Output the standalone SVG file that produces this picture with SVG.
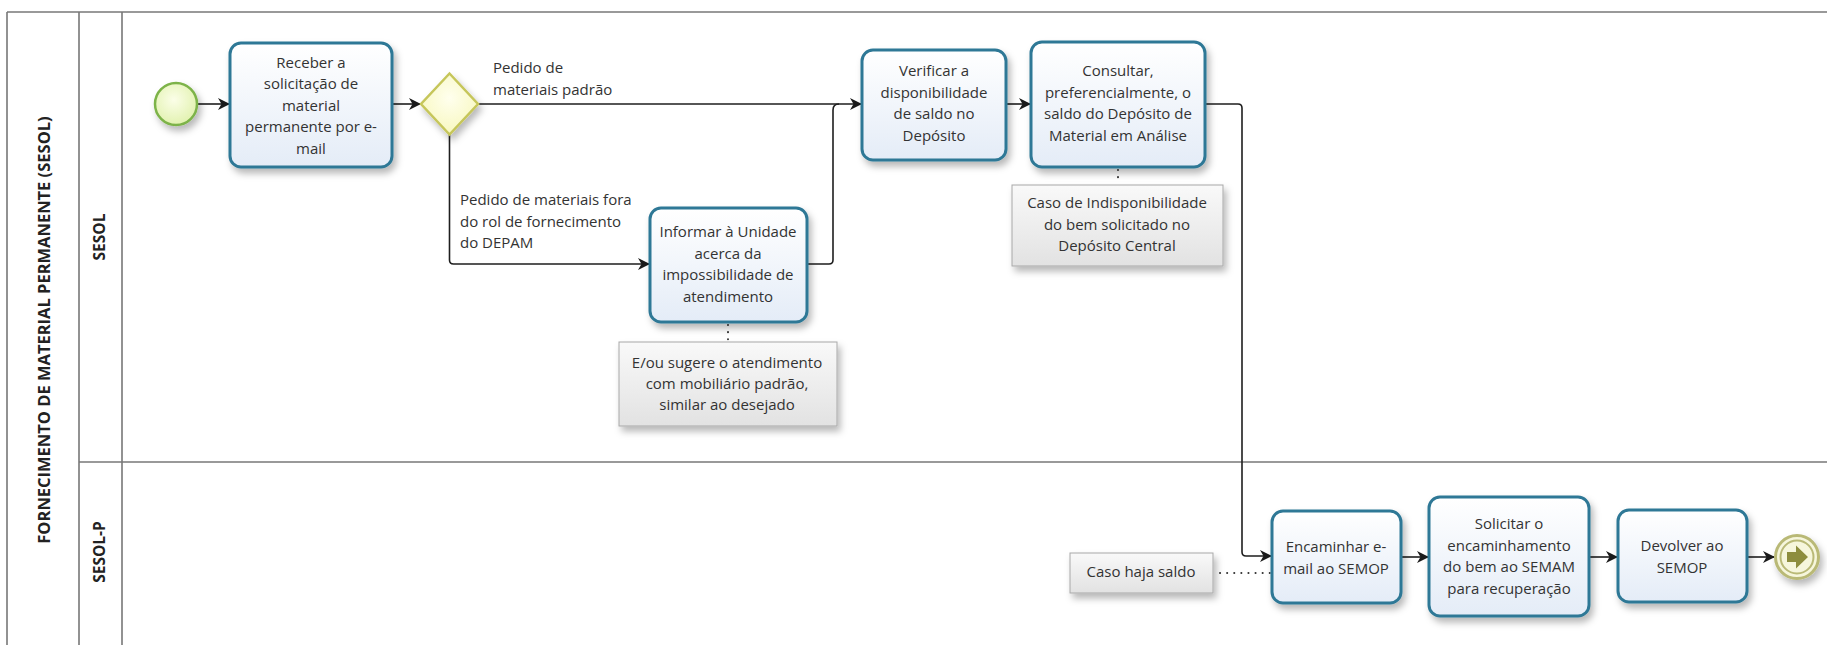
<svg xmlns="http://www.w3.org/2000/svg" width="1827" height="645" viewBox="0 0 1827 645">
<defs>
<linearGradient id="gTask" x1="0" y1="0" x2="0" y2="1"><stop offset="0" stop-color="#ffffff"/><stop offset="1" stop-color="#e4ecf7"/></linearGradient>
<linearGradient id="gNote" x1="0" y1="0" x2="0" y2="1"><stop offset="0" stop-color="#f9f9f9"/><stop offset="1" stop-color="#e2e2e2"/></linearGradient>
<radialGradient id="gStart" cx="0.45" cy="0.4" r="0.6"><stop offset="0" stop-color="#fbfee8"/><stop offset="1" stop-color="#e2f2b0"/></radialGradient>
<radialGradient id="gGate" cx="0.5" cy="0.4" r="0.6"><stop offset="0" stop-color="#ffffee"/><stop offset="1" stop-color="#f8f8c0"/></radialGradient>
<filter id="sh" x="-20%" y="-20%" width="150%" height="160%"><feDropShadow dx="3" dy="5" stdDeviation="3.5" flood-color="#000" flood-opacity="0.28"/></filter>
<marker id="arr" viewBox="0 0 12 12" refX="11" refY="6" markerWidth="12" markerHeight="12" markerUnits="userSpaceOnUse" orient="auto"><path d="M0,0 L12,6 L0,12 L3.5,6 z" fill="#1a1a1a"/></marker>
<style>
.frame{fill:none;stroke:#777;stroke-width:1.6}
.task{fill:url(#gTask);stroke:#2f7896;stroke-width:3;filter:url(#sh)}
.note{fill:url(#gNote);stroke:#a8a8a8;stroke-width:1;filter:url(#sh)}
.t{font-family:"Open Sans","Liberation Sans",sans-serif;font-size:15px;fill:#333;text-anchor:middle}
.lbl{font-family:"Open Sans","Liberation Sans",sans-serif;font-size:15px;fill:#333}
.hdr{font-family:"Open Sans","Liberation Sans",sans-serif;font-size:15.5px;font-weight:bold;fill:#222;text-anchor:middle}
.ttl{font-size:16.5px}
.flow{fill:none;stroke:#1e1e1e;stroke-width:1.6;marker-end:url(#arr)}
.assoc{fill:none;stroke:#333;stroke-width:2;stroke-dasharray:0.1,7;stroke-linecap:round}
</style>
</defs>
<rect width="1827" height="645" fill="#ffffff"/>
<g id="pool">
<line class="frame" x1="7" y1="12" x2="1827" y2="12"/>
<line class="frame" x1="7" y1="12" x2="7" y2="645"/>
<line class="frame" x1="79" y1="12" x2="79" y2="645"/>
<line class="frame" x1="122" y1="12" x2="122" y2="645"/>
<line class="frame" x1="79" y1="462" x2="1827" y2="462"/>
<text class="hdr ttl" transform="translate(50,330) rotate(-90)">FORNECIMENTO DE MATERIAL PERMANENTE (SESOL)</text>
</g>
<g id="lane-sesol"><text class="hdr" transform="translate(105,237) rotate(-90)">SESOL</text></g>
<g id="lane-sesolp"><text class="hdr" transform="translate(105,552) rotate(-90)">SESOL-P</text></g>

<g id="connectors">
<path class="flow" d="M197,104 H229"/>
<path class="flow" d="M392,104 H420"/>
<path class="flow" d="M478,104 H861"/>
<path fill="none" stroke="#1e1e1e" stroke-width="1.6" d="M807,264 H829 Q833,264 833,260 V110 Q833,104 839,104"/>
<path class="flow" d="M449.5,134 V260 Q449.5,264 453.5,264 H649"/>
<path class="flow" d="M1006,104 H1030"/>
<path class="flow" d="M1205,104 H1238 Q1242,104 1242,108 V552 Q1242,556 1246,556 H1271"/>
<path class="flow" d="M1401,557 H1428"/>
<path class="flow" d="M1589,557 H1617"/>
<path class="flow" d="M1747,557 H1774"/>
<path class="assoc" d="M1118,170 V184"/>
<path class="assoc" d="M728,325 V341"/>
<path class="assoc" d="M1220,573 H1270"/>
</g>

<g id="start"><circle cx="176" cy="104" r="21" fill="url(#gStart)" stroke="#7db348" stroke-width="2.5" filter="url(#sh)"/></g>

<g id="task-receber">
<rect class="task" x="230" y="43" width="162" height="124" rx="11"/>
<text class="t" x="311" y="67.5"><tspan x="311">Receber a</tspan><tspan x="311" dy="21.5">solicitação de</tspan><tspan x="311" dy="21.5">material</tspan><tspan x="311" dy="21.5">permanente por e-</tspan><tspan x="311" dy="21.5">mail</tspan></text>
</g>

<g id="gateway">
<polygon points="449.5,73.5 478,104 449.5,134.5 421,104" fill="url(#gGate)" stroke="#c6c65a" stroke-width="2.5" filter="url(#sh)"/>
</g>

<g id="label-padrao"><text class="lbl" x="493" y="73"><tspan x="493">Pedido de</tspan><tspan x="493" dy="21.5">materiais padrão</tspan></text></g>
<g id="label-fora"><text class="lbl" x="460" y="205"><tspan x="460">Pedido de materiais fora</tspan><tspan x="460" dy="21.5">do rol de fornecimento</tspan><tspan x="460" dy="21.5">do DEPAM</tspan></text></g>

<g id="task-informar">
<rect class="task" x="650" y="208" width="157" height="114" rx="11"/>
<text class="t" x="728" y="237"><tspan x="728">Informar à Unidade</tspan><tspan x="728" dy="21.5">acerca da</tspan><tspan x="728" dy="21.5">impossibilidade de</tspan><tspan x="728" dy="21.5">atendimento</tspan></text>
</g>

<g id="note-eou">
<rect class="note" x="619" y="342" width="218" height="84"/>
<text class="t" x="727" y="368"><tspan x="727">E/ou sugere o atendimento</tspan><tspan x="727" dy="21">com mobiliário padrão,</tspan><tspan x="727" dy="21">similar ao desejado</tspan></text>
</g>

<g id="task-verificar">
<rect class="task" x="862" y="50" width="144" height="110" rx="11"/>
<text class="t" x="934" y="76"><tspan x="934">Verificar a</tspan><tspan x="934" dy="21.5">disponibilidade</tspan><tspan x="934" dy="21.5">de saldo no</tspan><tspan x="934" dy="21.5">Depósito</tspan></text>
</g>

<g id="task-consultar">
<rect class="task" x="1031" y="42" width="174" height="125" rx="11"/>
<text class="t" x="1118" y="76"><tspan x="1118">Consultar,</tspan><tspan x="1118" dy="21.5">preferencialmente, o</tspan><tspan x="1118" dy="21.5">saldo do Depósito de</tspan><tspan x="1118" dy="21.5">Material em Análise</tspan></text>
</g>

<g id="note-indisp">
<rect class="note" x="1012" y="185" width="211" height="81"/>
<text class="t" x="1117" y="208"><tspan x="1117">Caso de Indisponibilidade</tspan><tspan x="1117" dy="21.5">do bem solicitado no</tspan><tspan x="1117" dy="21.5">Depósito Central</tspan></text>
</g>

<g id="note-saldo">
<rect class="note" x="1070" y="553" width="143" height="40"/>
<text class="t" x="1141" y="577">Caso haja saldo</text>
</g>

<g id="task-encaminhar">
<rect class="task" x="1272" y="511" width="129" height="92" rx="11"/>
<text class="t" x="1336" y="552"><tspan x="1336">Encaminhar e-</tspan><tspan x="1336" dy="21.5">mail ao SEMOP</tspan></text>
</g>

<g id="task-solicitar">
<rect class="task" x="1429" y="497" width="160" height="119" rx="11"/>
<text class="t" x="1509" y="529"><tspan x="1509">Solicitar o</tspan><tspan x="1509" dy="21.5">encaminhamento</tspan><tspan x="1509" dy="21.5">do bem ao SEMAM</tspan><tspan x="1509" dy="21.5">para recuperação</tspan></text>
</g>

<g id="task-devolver">
<rect class="task" x="1618" y="510" width="129" height="92" rx="11"/>
<text class="t" x="1682" y="551"><tspan x="1682">Devolver ao</tspan><tspan x="1682" dy="21.5">SEMOP</tspan></text>
</g>

<g id="end">
<circle cx="1797" cy="557" r="21.5" fill="#f6f6dc" stroke="#b9b976" stroke-width="3" filter="url(#sh)"/>
<circle cx="1797" cy="557" r="16.5" fill="none" stroke="#b9b976" stroke-width="2"/>
<path d="M1787,552 H1796 V545.5 L1808,557 L1796,568.5 V562 H1787 z" fill="#8d8d3e"/>
</g>
</svg>
